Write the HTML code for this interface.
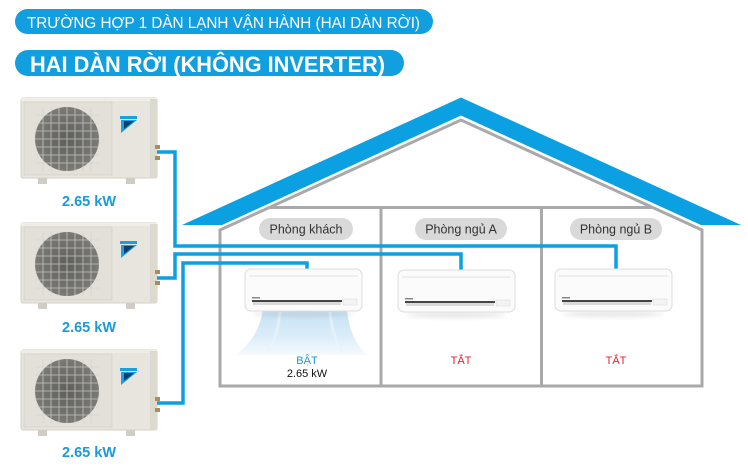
<!DOCTYPE html>
<html><head><meta charset="utf-8"><style>
html,body{margin:0;padding:0;background:#fff;}
svg{display:block;}
text{font-family:"Liberation Sans","Noto Sans CJK SC",sans-serif;}
</style></head><body>
<svg width="748" height="473" viewBox="0 0 748 473" xmlns="http://www.w3.org/2000/svg">
<defs>
<linearGradient id="cone" x1="0" y1="0" x2="0" y2="1">
<stop offset="0" stop-color="#c4e1f5"/>
<stop offset="0.6" stop-color="#dcedf9"/>
<stop offset="1" stop-color="#f5fafd"/>
</linearGradient>
<radialGradient id="fan" cx="0.5" cy="0.5" r="0.5">
<stop offset="0" stop-color="#5e5e5c"/>
<stop offset="1" stop-color="#7a7a76"/>
</radialGradient>
<filter id="blur" x="-20%" y="-50%" width="140%" height="200%"><feGaussianBlur stdDeviation="2"/></filter>
<g id="odu">
<rect x="21" y="98" width="136" height="80" rx="2" fill="#e7e5dd" stroke="#d3d0c6" stroke-width="1"/>
<rect x="21" y="98" width="136" height="3" fill="#efede6"/>
<rect x="150" y="99" width="7" height="78" fill="#dcd9cf"/>
<rect x="24" y="102" width="88" height="73" fill="#e2e0d8" stroke="#d0cdc3" stroke-width="0.6"/>
<circle cx="67" cy="139" r="32" fill="url(#fan)"/>
<g stroke="#d4d2cb" stroke-width="0.8" opacity="0.85">
<line x1="35" y1="115" x2="99" y2="115"/><line x1="35" y1="123" x2="99" y2="123"/><line x1="35" y1="131" x2="99" y2="131"/><line x1="35" y1="139" x2="99" y2="139"/><line x1="35" y1="147" x2="99" y2="147"/><line x1="35" y1="155" x2="99" y2="155"/><line x1="35" y1="163" x2="99" y2="163"/>
<line x1="43" y1="107" x2="43" y2="171"/><line x1="51" y1="107" x2="51" y2="171"/><line x1="59" y1="107" x2="59" y2="171"/><line x1="67" y1="107" x2="67" y2="171"/><line x1="75" y1="107" x2="75" y2="171"/><line x1="83" y1="107" x2="83" y2="171"/><line x1="91" y1="107" x2="91" y2="171"/>
</g>
<rect x="120" y="116" width="17" height="3" fill="#1a9fe0"/>
<polygon points="121,120 137,120 121,133" fill="#1a9fe0"/>
<polygon points="124,121 134,121 124,129" fill="#0b3f6e"/>
<rect x="38" y="178" width="9" height="6" fill="#d0cdc4"/>
<rect x="126" y="178" width="9" height="6" fill="#d0cdc4"/>
<rect x="155" y="145" width="5" height="4" fill="#a8905e"/>
<rect x="155" y="156" width="5" height="4" fill="#a8905e"/>
</g>
<g id="idu">
<ellipse cx="58" cy="45" rx="50" ry="3" fill="#b0b0b0" opacity="0.3" filter="url(#blur)"/>
<rect x="0" y="0" width="117" height="42" rx="6" fill="#fbfbfb" stroke="#dcdcdc" stroke-width="1"/>
<line x1="4" y1="7" x2="113" y2="7" stroke="#e2e2e2" stroke-width="1"/>
<rect x="7" y="31" width="90" height="2" fill="#454545"/>
<rect x="8" y="33" width="88" height="3" fill="#dadada"/>
<rect x="98" y="30" width="14" height="6" fill="#f3f3f3" stroke="#dadada" stroke-width="0.5"/>
<rect x="7" y="28" width="8" height="1.5" fill="#888"/>
</g>
</defs>

<rect x="15" y="9" width="418" height="25" rx="12.5" fill="#129fe0"/>
<text x="27" y="28" font-size="15.4" fill="#fff" textLength="393" lengthAdjust="spacingAndGlyphs">TRƯỜNG HỢP 1 DÀN LẠNH VẬN HÀNH (HAI DÀN RỜI)</text>
<rect x="15" y="50" width="389" height="26" rx="13" fill="#129fe0"/>
<text x="30" y="72" font-size="22" font-weight="bold" fill="#fff" textLength="355" lengthAdjust="spacingAndGlyphs">HAI DÀN RỜI (KHÔNG INVERTER)</text>

<polygon points="182,225 461,97.5 741,225 701,225 461,115.5 222,225" fill="#0aa0e2"/>
<path d="M220,386 V230 L461,120 L702,230 V386 Z" fill="none" stroke="#a9a9ab" stroke-width="3" stroke-linejoin="miter"/>
<line x1="270" y1="207.5" x2="652" y2="207.5" stroke="#a9a9ab" stroke-width="3"/>
<line x1="381" y1="207" x2="381" y2="386" stroke="#a9a9ab" stroke-width="3"/>
<line x1="541.5" y1="207" x2="541.5" y2="386" stroke="#a9a9ab" stroke-width="3"/>

<rect x="259" y="218" width="94" height="22" rx="11" fill="#d9d9d9"/>
<text x="306" y="233.5" font-size="12.5" fill="#333" text-anchor="middle">Phòng khách</text>
<rect x="415" y="218" width="92" height="22" rx="11" fill="#d9d9d9"/>
<text x="461" y="233.5" font-size="12.5" fill="#333" text-anchor="middle">Phòng ngủ A</text>
<rect x="570" y="218" width="92" height="22" rx="11" fill="#d9d9d9"/>
<text x="616" y="233.5" font-size="12.5" fill="#333" text-anchor="middle">Phòng ngủ B</text>

<use href="#odu"/>
<use href="#odu" transform="translate(0,125)"/>
<use href="#odu" transform="translate(0,252)"/>
<text x="89" y="206" font-size="14.5" font-weight="bold" fill="#1a9ad8" text-anchor="middle">2.65 kW</text>
<text x="89" y="332" font-size="14.5" font-weight="bold" fill="#1a9ad8" text-anchor="middle">2.65 kW</text>
<text x="89" y="457" font-size="14.5" font-weight="bold" fill="#1a9ad8" text-anchor="middle">2.65 kW</text>

<path d="M263,310 L347,310 Q350,340 367,355 L235,355 Q258,340 263,310 Z" fill="url(#cone)"/>
<path d="M280,312 Q278,335 268,352 M330,312 Q332,335 342,352" stroke="#e9f4fb" stroke-width="3" fill="none" opacity="0.7"/>

<g fill="none" stroke="#0aa0e2" stroke-width="3.5" stroke-linejoin="miter" stroke-linecap="butt">
<path d="M157,152 H175 V246 H616 V269"/>
<path d="M157,278 H175 V254 H461 V270"/>
<path d="M157,403 H183 V263 H307 V269"/>
</g>

<use href="#idu" transform="translate(245,269)"/>
<use href="#idu" transform="translate(398,270)"/>
<use href="#idu" transform="translate(555,269)"/>

<text x="307" y="364" font-size="11" fill="#1a9ad8" text-anchor="middle">BẬT</text>
<text x="307" y="377" font-size="11" fill="#111" text-anchor="middle">2.65 kW</text>
<text x="461" y="364" font-size="11" fill="#e3202c" text-anchor="middle">TẮT</text>
<text x="616" y="364" font-size="11" fill="#e3202c" text-anchor="middle">TẮT</text>
</svg>
</body></html>
